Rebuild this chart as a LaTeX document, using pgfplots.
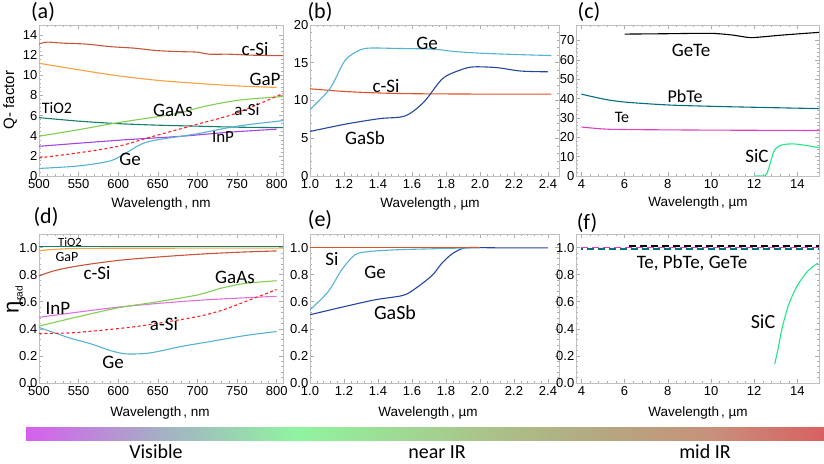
\documentclass[border=0pt]{standalone}
\usepackage{fontspec}
\setmainfont{Carlito}
\newfontfamily\arial{Liberation Sans}
\usepackage{pgfplots}
\pgfplotsset{compat=1.18}

\definecolor{cSi}{HTML}{C8553A}
\definecolor{cSiB}{HTML}{E0522A}
\definecolor{GaP}{HTML}{FFA040}
\definecolor{TiO}{HTML}{12806A}
\definecolor{GaAs}{HTML}{80D050}
\definecolor{aSi}{HTML}{FF2222}
\definecolor{InPa}{HTML}{A444E4}
\definecolor{InPd}{HTML}{E070E0}
\definecolor{Ge}{HTML}{55B2D6}
\definecolor{GaSb}{HTML}{2444A4}
\definecolor{PbTe}{HTML}{006F80}
\definecolor{Te}{HTML}{E040C0}
\definecolor{SiC}{HTML}{20E888}
\definecolor{sp1}{HTML}{D660EE}
\definecolor{sp2}{HTML}{A4B0C4}
\definecolor{sp3}{HTML}{90F4A0}
\definecolor{sp4}{HTML}{A8C88C}
\definecolor{sp5}{HTML}{B4A880}
\definecolor{sp6}{HTML}{C8907A}
\definecolor{sp7}{HTML}{D86060}

% the path is mapped onto the central 25bp--75bp band of the shading
\pgfdeclarehorizontalshading{spectrum}{100bp}{color(0bp)=(sp1); color(25bp)=(sp1); color(33.5bp)=(sp2); color(42bp)=(sp3); color(52.5bp)=(sp4); color(61bp)=(sp5); color(68bp)=(sp6); color(75bp)=(sp7); color(100bp)=(sp7)}

\pgfplotsset{
  panel/.style={
    scale only axis, anchor=south west,
    axis line style={gray!50, line width=0.6pt},
    tick style={gray!65, line width=0.5pt},
    major tick length=4pt, minor tick length=2pt,
    tick align=inside, minor x tick num=4, minor y tick num=4,
    ticklabel style={font=\arial\fontsize{13}{13}\selectfont, text=black, inner sep=1.5pt},
    xticklabel style={yshift=-2pt},
    /pgf/number format/assume math mode=true,
    every axis plot/.append style={line width=1.1pt, no marks},
  },
  dec/.style={/pgf/number format/.cd, fixed, fixed zerofill, precision=1},
}

\newcommand{\lab}[4]{\node[font=\fontsize{#4}{#4}\selectfont, inner sep=0pt] at (#1pt,#2pt) {#3};}
\newcommand{\axlab}[3]{\node[font=\arial\fontsize{13.5}{13.5}\selectfont, inner sep=0pt] at (#1pt,#2pt) {#3};}

\begin{document}
\begin{tikzpicture}
\path (0pt,0pt) rectangle (824pt,463pt);

% (a) Q-factor, visible range
\begin{axis}[panel, at={(39pt,287pt)}, width=244pt, height=151pt,
  xmin=500, xmax=808, ymin=0, ymax=15,
  xtick={500,550,...,800}, ytick={0,2,...,14}]
\addplot[cSi, smooth] coordinates {(500,13.1) (510,13.3) (530,13.2) (560,13.1) (590,12.85) (620,12.7) (650,12.45) (680,12.35) (700,12.3) (715,12.1) (740,12.1) (770,12.0) (808,11.95)};
\addplot[GaP, smooth] coordinates {(500,11.2) (550,10.55) (600,9.95) (650,9.5) (700,9.2) (750,8.95) (800,8.8)};
\addplot[TiO, smooth] coordinates {(500,5.8) (550,5.45) (600,5.2) (650,5.05) (700,4.95) (750,4.85) (808,4.8)};
\addplot[GaAs, smooth] coordinates {(500,3.95) (550,4.6) (600,5.3) (650,5.9) (680,6.3) (700,6.75) (730,7.25) (760,7.6) (808,7.9)};
\addplot[InPa, smooth] coordinates {(500,2.95) (600,3.55) (680,3.95) (740,4.35) (800,4.65)};
\addplot[Ge, smooth] coordinates {(500,0.75) (550,1.0) (590,1.5) (610,2.3) (630,3.2) (650,3.6) (700,4.2) (750,4.95) (808,5.5)};
\addplot[aSi, dash pattern=on 3pt off 2.5pt, smooth] coordinates {(500,1.8) (550,2.3) (600,2.95) (640,3.85) (678,4.67) (700,5.15) (740,6.0) (770,6.9) (808,8.2)};
\end{axis}

% (b) Q-factor, near IR
\begin{axis}[panel, at={(310pt,287pt)}, width=249pt, height=151pt,
  xmin=1.0, xmax=2.465, ymin=0, ymax=20,
  xtick={1.0,1.2,...,2.41}, ytick={0,5,...,20}, xticklabel style={dec}]
\addplot[cSiB, smooth] coordinates {(1.0,11.55) (1.2,11.2) (1.4,11.0) (1.6,10.9) (2.0,10.85) (2.42,10.85)};
\addplot[Ge, smooth] coordinates {(1.0,8.8) (1.118,11.6) (1.206,15.3) (1.294,16.7) (1.36,16.95) (1.5,16.9) (1.725,16.8) (1.843,16.5) (2.0,16.27) (2.2,16.1) (2.42,15.95)};
\addplot[GaSb, smooth] coordinates {(1.0,5.9) (1.216,6.9) (1.41,7.6) (1.56,7.96) (1.67,9.8) (1.78,12.9) (1.88,14.0) (1.96,14.45) (2.1,14.35) (2.24,13.9) (2.40,13.8)};
\end{axis}

% (c) Q-factor, mid IR
\begin{axis}[panel, at={(576pt,287pt)}, width=243pt, height=151pt,
  xmin=3.75, xmax=15, ymin=0, ymax=78,
  xtick={4,6,...,14}, ytick={0,10,...,70}]
\addplot[black, smooth] coordinates {(6,73.3) (8,73.5) (9.5,73.7) (10.2,73.6) (11,72.8) (11.8,71.5) (12.5,72.0) (13.3,72.8) (15,74.2)};
\addplot[PbTe, smooth] coordinates {(4,42.3) (5,39.8) (6,38.2) (8,36.7) (10,36.0) (12,35.5) (15,34.8)};
\addplot[Te, smooth] coordinates {(4,25.3) (5,24.3) (6,24.0) (10,23.7) (15,23.5)};
\addplot[SiC] coordinates {(12,0) (12.5,0) (12.6,1.5) (12.7,5) (12.8,9) (12.9,12.5) (13.0,14.2) (13.15,15.5) (13.3,16.1) (13.55,16.5) (13.8,16.6) (14.1,16.3) (14.5,15.6) (15,14.6)};
\end{axis}

% (d) radiative efficiency, visible range
\begin{axis}[panel, at={(39pt,80pt)}, width=244pt, height=149pt,
  xmin=500, xmax=808, ymin=0, ymax=1.1,
  xtick={500,550,...,800}, ytick={0,0.2,...,1.01}, yticklabel style={dec}]
\addplot[GaP, smooth] coordinates {(500,0.975) (510,0.982) (530,0.99) (560,0.994) (650,0.995) (808,0.996)};
\addplot[TiO] coordinates {(500,1.005) (808,1.005)};
\addplot[cSi, smooth] coordinates {(500,0.79) (520,0.83) (550,0.865) (600,0.905) (650,0.93) (700,0.95) (750,0.965) (800,0.975)};
\addplot[InPd, smooth] coordinates {(500,0.485) (600,0.56) (700,0.61) (800,0.64)};
\addplot[GaAs, smooth] coordinates {(500,0.42) (550,0.49) (600,0.555) (650,0.6) (700,0.65) (730,0.7) (760,0.735) (800,0.755)};
\addplot[Ge, smooth] coordinates {(500,0.41) (520,0.37) (540,0.33) (565,0.29) (590,0.24) (610,0.215) (640,0.222) (680,0.27) (720,0.31) (760,0.35) (800,0.38)};
\addplot[aSi, dash pattern=on 3pt off 2.5pt, smooth] coordinates {(500,0.365) (540,0.37) (580,0.39) (620,0.415) (660,0.45) (700,0.49) (730,0.535) (760,0.6) (800,0.69)};
\end{axis}

% (e) radiative efficiency, near IR
\begin{axis}[panel, at={(310pt,80pt)}, width=249pt, height=149pt,
  xmin=1.0, xmax=2.465, ymin=0, ymax=1.1,
  xtick={1.0,1.2,...,2.41}, ytick={0,0.2,...,1.01}, xticklabel style={dec}, yticklabel style={dec}]
\addplot[GaSb, smooth] coordinates {(1.0,0.504) (1.206,0.565) (1.382,0.614) (1.538,0.644) (1.6,0.68) (1.715,0.79) (1.773,0.88) (1.832,0.95) (1.89,0.99) (1.94,1.0) (2.1,0.998) (2.4,0.998)};
\addplot[Ge, smooth] coordinates {(1.0,0.54) (1.108,0.676) (1.186,0.835) (1.264,0.946) (1.343,0.97) (1.5,0.983) (1.695,0.99) (1.85,0.995) (2.0,0.998)};
\addplot[cSiB] coordinates {(1.0,1.0) (2.0,1.0)};
\end{axis}

% (f) radiative efficiency, mid IR
\begin{axis}[panel, at={(576pt,80pt)}, width=243pt, height=149pt,
  xmin=3.75, xmax=15, ymin=0, ymax=1.1,
  xtick={4,6,...,14}, ytick={0,0.2,...,1.01}, yticklabel style={dec}]
\addplot[black, line width=1.6pt, dash pattern=on 7pt off 4pt] coordinates {(6.2,1.012) (15,1.012)};
\addplot[PbTe, line width=1.6pt, dash pattern=on 7pt off 4pt, dash phase=5pt] coordinates {(4,0.988) (15,0.988)};
\addplot[Te, line width=1.6pt, dash pattern=on 7pt off 4pt] coordinates {(4,1.0) (15,1.0)};
\addplot[SiC, smooth] coordinates {(12.95,0.14) (13.1,0.25) (13.3,0.41) (13.6,0.58) (14.0,0.72) (14.5,0.83) (14.95,0.885)};
\end{axis}

% panel letters
\lab{43}{451}{(a)}{22}
\lab{320}{451}{(b)}{22}
\lab{589}{451}{(c)}{22}
\lab{46}{246}{(d)}{22}
\lab{320}{243}{(e)}{22}
\lab{587}{240}{(f)}{22}

% axis titles
\axlab{161}{259}{Wavelength\kern2pt, nm}
\axlab{430}{259}{Wavelength\kern2pt, µm}
\axlab{698}{260}{Wavelength\kern2pt, µm}
\axlab{160}{50}{Wavelength\kern2pt, nm}
\axlab{428}{50}{Wavelength\kern2pt, µm}
\axlab{698}{50}{Wavelength\kern2pt, µm}
\node[font=\arial\fontsize{15}{15}\selectfont, rotate=90, inner sep=0pt] at (10pt,363pt) {Q- factor};
\node[font=\arial\fontsize{22}{22}\selectfont, rotate=90, inner sep=0pt, anchor=center] at (15pt,163pt) {η\kern1pt\raisebox{-4pt}{\fontsize{10}{10}\selectfont rad}};

% curve names
\lab{255}{414}{c-Si}{19}
\lab{265}{384}{GaP}{19}
\lab{57}{355}{TiO2}{16}
\lab{173}{353}{GaAs}{19}
\lab{247}{353}{a-Si}{17}
\lab{223}{326}{InP}{17}
\lab{130}{304}{Ge}{19}

\lab{427}{420}{Ge}{19}
\lab{386}{377}{c-Si}{19}
\lab{365}{325}{GaSb}{19}

\lab{691}{413}{GeTe}{19}
\lab{685}{367}{PbTe}{18}
\lab{622}{346}{Te}{16}
\lab{757}{307}{SiC}{19}

\lab{70}{221}{TiO2}{12.5}
\lab{67}{206}{GaP}{14}
\lab{97}{190}{c-Si}{19}
\lab{235}{186}{GaAs}{19}
\lab{58}{155}{InP}{19}
\lab{164}{139}{a-Si}{19}
\lab{113}{101}{Ge}{19}

\lab{332}{204}{Si}{19}
\lab{375}{191}{Ge}{19}
\lab{395}{150}{GaSb}{20}

\lab{692}{200}{Te, PbTe, GeTe}{19}
\lab{763}{141}{SiC}{20}

% spectral band strip
\shade[shading=spectrum] (26pt,23pt) rectangle (824pt,36pt);
\lab{156}{11}{Visible}{20}
\lab{437}{11}{near IR}{20}
\lab{705}{11}{mid IR}{20}
\end{tikzpicture}
\end{document}
